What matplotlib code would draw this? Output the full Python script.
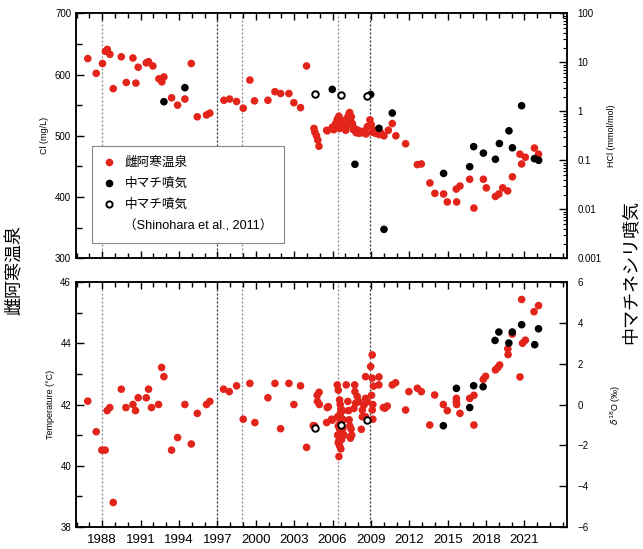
import numpy as np
import matplotlib
matplotlib.use("Agg")
import matplotlib.pyplot as plt
from matplotlib.lines import Line2D
from matplotlib.ticker import MultipleLocator, FixedLocator, LogLocator, NullFormatter

plt.rcParams['font.family'] = ['Liberation Sans', 'Noto Sans CJK JP', 'DejaVu Sans']

# ── Data ──

# 雌阿寒温泉 Cl (mg/L)
cl_year = [1986.87, 1987.53, 1988.02, 1988.25, 1988.4, 1988.6, 1988.86, 1989.49, 1989.88,
           1990.4, 1990.63, 1990.81, 1991.44, 1991.62, 1991.96, 1992.43, 1992.66, 1992.82,
           1993.42, 1993.89, 1994.46, 1994.96, 1995.43, 1996.15, 1996.41, 1997.51, 1997.95,
           1998.5, 1999.02, 1999.54, 1999.9, 2000.95, 2001.5, 2001.94, 2002.59, 2002.98,
           2003.5, 2003.97,
           2004.55, 2004.62, 2004.75, 2004.85, 2004.94, 2005.54, 2005.6, 2005.98, 2006.1,
           2006.24, 2006.3, 2006.37, 2006.45, 2006.5, 2006.55, 2006.63, 2006.7, 2006.76,
           2006.85, 2006.9, 2007.03, 2007.1, 2007.16, 2007.25, 2007.34, 2007.4, 2007.47,
           2007.55, 2007.62, 2007.73, 2007.85, 2007.99, 2008.1, 2008.25, 2008.4, 2008.51,
           2008.62, 2008.72, 2008.92, 2009.03, 2009.1, 2009.23, 2009.35, 2009.5, 2009.63,
           2009.76, 2010.02, 2010.36, 2010.67, 2010.95,
           2011.71, 2012.63, 2012.94, 2013.61, 2014.0, 2014.68, 2014.97, 2015.67, 2015.7,
           2015.96, 2016.72, 2017.05, 2017.79, 2018.02, 2018.73, 2019.0, 2019.3, 2019.69,
           2020.06, 2020.65, 2020.78, 2021.07, 2021.78, 2022.1]
cl_value = [626, 602, 618, 638, 641, 633, 577, 629, 587,
            627, 586, 612, 619, 621, 614, 593, 588, 596,
            562, 550, 560, 618, 531, 534, 537, 558, 560,
            556, 545, 591, 557, 558, 572, 569, 569, 554,
            546, 614,
            512, 506, 500, 493, 483, 509, 508, 514, 510,
            520, 516, 527, 522, 532, 512, 523, 518, 515,
            525, 520, 509, 516, 529, 534, 538, 524, 531,
            520, 510, 512, 505, 509, 504, 507, 505, 508,
            503, 515, 526, 518, 506, 509, 504, 507, 502,
            505, 500, 509, 520, 500,
            487, 453, 454, 423, 406, 405, 392, 413, 392,
            418, 429, 382, 429, 415, 401, 405, 415, 410,
            433, 470, 454, 465, 480, 470]

# 中マチネシリ噴気 HCl (mmol/mol)
hcl_year = [1992.82, 1994.46, 2005.98, 2007.75, 2008.98, 2009.63, 2010.02, 2010.67,
            2014.68, 2016.72, 2017.03, 2017.79, 2018.73, 2019.04, 2019.79, 2020.06,
            2020.78, 2021.78, 2022.11]
hcl_value = [1.57, 3.03, 2.8, 0.083, 2.2, 0.45, 0.0039, 0.92,
             0.054, 0.074, 0.19, 0.14, 0.105, 0.22, 0.40, 0.18,
             1.3, 0.108, 0.10]

# Shinohara et al. (2011)
sh_year = [2004.6, 2006.69, 2008.67]
sh_hcl = [2.25, 2.15, 2.02]
sh_d18o = [-1.17, -1.0, -0.76]

# 雌阿寒温泉 temperature (°C)
t_year = [1986.87, 1987.53, 1987.97, 1988.23, 1988.38, 1988.59, 1988.86, 1989.49, 1989.85,
          1990.4, 1990.6, 1990.81, 1991.44, 1991.62, 1991.85, 1992.4, 1992.64, 1992.82,
          1993.42, 1993.89, 1994.46, 1994.96, 1995.43, 1996.15, 1996.41, 1997.48, 1997.93,
          1998.5, 1999.02, 1999.54, 1999.93, 2000.95, 2001.5, 2001.94, 2002.59, 2002.98,
          2003.5, 2003.97,
          2004.49, 2004.6, 2004.8, 2004.95, 2004.82, 2004.97, 2005.54, 2005.59, 2005.67,
          2005.93, 2005.98, 2006.37, 2006.45,
          2006.4, 2006.45, 2006.4, 2006.5, 2006.45, 2006.5, 2006.55, 2006.6, 2006.65,
          2006.6, 2006.7, 2006.6, 2006.65, 2006.55, 2006.7, 2006.6, 2006.7, 2006.55,
          2006.65, 2006.8, 2006.85, 2006.8, 2006.9,
          2007.07, 2007.2, 2007.25, 2007.3, 2007.35, 2007.45, 2007.5, 2007.4,
          2007.73, 2007.75, 2007.93, 2007.8, 2007.67, 2008.06, 2008.33, 2008.45, 2008.58,
          2008.72, 2008.33, 2008.58, 2008.25, 2008.58, 2008.98, 2009.1, 2009.1, 2009.2,
          2009.05, 2009.15, 2009.1, 2009.15, 2009.63, 2009.62, 2009.97, 2010.1, 2010.28,
          2010.67, 2010.93,
          2011.71, 2011.97, 2012.63, 2012.94, 2013.6, 2013.98, 2014.66, 2014.97, 2015.68,
          2015.68, 2015.7, 2015.96, 2016.72, 2017.05, 2017.05, 2017.78, 2017.96, 2018.73,
          2018.93, 2019.06, 2019.7, 2019.72, 2020.05, 2020.65, 2020.78, 2020.85, 2021.07,
          2021.75, 2022.1]
t_value = [42.11, 41.11, 40.51, 40.51, 41.8, 41.9, 38.8, 42.5, 41.9,
           42.0, 41.8, 42.22, 42.22, 42.5, 41.9, 42.0, 43.21, 42.91,
           40.51, 40.92, 42.0, 40.71, 41.71, 42.0, 42.1, 42.5, 42.42,
           42.61, 41.52, 42.69, 41.41, 42.22, 42.69, 41.21, 42.69, 42.0,
           42.61, 40.6,
           41.31, 41.3, 42.3, 42.4, 42.1, 42.0, 41.41, 41.9, 41.93,
           41.52, 41.49, 42.64, 42.47,
           41.6, 41.3, 41.0, 40.82, 40.75, 40.3, 42.15, 42.0, 41.85,
           41.7, 41.55, 41.45, 41.35, 41.2, 41.1, 40.95, 40.85, 40.65,
           40.55, 41.8, 41.5, 41.2, 41.0,
           42.64, 42.1, 41.8, 41.5, 41.3, 41.2, 41.0, 40.9,
           42.64, 42.42, 42.26, 42.04, 41.87, 42.09, 41.82, 41.98, 42.2,
           42.09, 41.6, 41.6, 41.19, 42.91, 43.24, 43.62, 42.86, 42.6,
           42.3, 42.0, 41.82, 41.52, 42.9, 42.64, 41.9, 41.88, 41.95,
           42.64, 42.71,
           41.82, 42.42, 42.53, 42.42, 41.33, 42.31, 42.0, 41.8, 42.09,
           42.2, 42.0, 41.71, 42.2, 42.3, 41.33, 42.82, 42.92, 43.13,
           43.21, 43.29, 43.82, 43.63, 44.3, 42.9, 45.43, 44.0, 44.1,
           45.03, 45.23]

# 中マチネシリ噴気 δ18O (‰)
d18o_year = [2014.66, 2015.68, 2016.72, 2017.03, 2017.77, 2018.7, 2019.0, 2019.78,
             2020.05, 2020.78, 2021.8, 2022.1]
d18o_value = [-1.04, 0.79, -0.15, 0.92, 0.87, 3.14, 3.55, 3.01,
              3.55, 3.91, 2.93, 3.71]

event_year = [1988.0, 1997.0, 1998.95, 2006.4, 2008.95]
event_dark = [False, True, False, False, True]

year_ticks = list(range(1988, 2022, 3))

RED = '#e3241b'

# ── Figure ──

fig = plt.figure(figsize=(6.43, 5.49), dpi=100)
ax1 = fig.add_axes([0.1182, 0.5295, 0.7631, 0.4463])
ax2 = fig.add_axes([0.1182, 0.0401, 0.7631, 0.4462])
ax1r = ax1.twinx()
ax2r = ax2.twinx()

for ax in (ax1, ax2):
    for x, dark in zip(event_year, event_dark):
        ax.axvline(x, color='#333333' if dark else '#8a8a8a', lw=0.9,
                   ls=(0, (1.6, 1.6)), zorder=1)

# top panel
ax1.scatter(cl_year, cl_value, s=30, color=RED, edgecolors='none', zorder=3)
ax1r.scatter(hcl_year, hcl_value, s=30, color='black', edgecolors='none', zorder=4)
ax1r.scatter(sh_year, sh_hcl, s=22, facecolors='white', edgecolors='black',
             linewidths=1.4, zorder=4)

# bottom panel
ax2.scatter(t_year, t_value, s=30, color=RED, edgecolors='none', zorder=3)
ax2r.scatter(d18o_year, d18o_value, s=30, color='black', edgecolors='none', zorder=4)
ax2r.scatter(sh_year, sh_d18o, s=22, facecolors='white', edgecolors='black',
             linewidths=1.4, zorder=4)

for ax in (ax1, ax2, ax1r, ax2r):
    ax.set_xlim(1985.95, 2024.3)
    ax.xaxis.set_major_locator(FixedLocator(year_ticks))
    ax.xaxis.set_minor_locator(MultipleLocator(1))
    for sp in ax.spines.values():
        sp.set_linewidth(1.1)

ax1.set_ylim(300, 700)
ax1.yaxis.set_major_locator(MultipleLocator(100))
ax1.yaxis.set_minor_locator(MultipleLocator(50))
ax1r.set_yscale('log')
ax1r.set_ylim(0.001, 100)
ax1r.yaxis.set_minor_locator(LogLocator(base=10, subs=np.arange(2, 10), numticks=10))
ax1r.yaxis.set_minor_formatter(NullFormatter())
ax1r.set_yticks([0.001, 0.01, 0.1, 1, 10, 100])
ax1r.set_yticklabels(['0.001', '0.01', '0.1', '1', '10', '100'])

ax2.set_ylim(38, 46)
ax2.yaxis.set_major_locator(MultipleLocator(2))
ax2.yaxis.set_minor_locator(MultipleLocator(1))
ax2r.set_ylim(-6, 6)
ax2r.yaxis.set_major_locator(MultipleLocator(2))

for ax in (ax1, ax2):
    ax.tick_params(axis='x', which='both', direction='in', top=True, bottom=True)
    ax.tick_params(axis='x', which='major', length=5, width=1)
    ax.tick_params(axis='x', which='minor', length=3.5, width=1)
    ax.tick_params(axis='y', which='both', direction='in', left=True, right=False,
                   labelsize=7, pad=3.5)
    ax.tick_params(axis='y', which='major', length=6, width=1)
    ax.tick_params(axis='y', which='minor', length=4, width=1)
for ax in (ax1r, ax2r):
    ax.tick_params(axis='y', which='both', direction='in', labelsize=7, pad=8)
    ax.tick_params(axis='y', which='major', length=6, width=1)
    ax.tick_params(axis='y', which='minor', length=3, width=0.8)
    ax.tick_params(axis='x', which='both', bottom=False, top=False, labelbottom=False)

ax1.tick_params(axis='x', labelbottom=False)
ax2.tick_params(axis='x', labelsize=9.5, pad=5)

ax1.set_ylabel('Cl (mg/L)', fontsize=6.5, labelpad=4)
ax2.set_ylabel('Temperature (°C)', fontsize=6.5, labelpad=4)
ax1r.set_ylabel('HCl (mmol/mol)', fontsize=6.5, labelpad=3.5)
ax2r.set_ylabel(r'$\delta^{18}$O (‰)', fontsize=6.5, labelpad=14)

handles = [
    Line2D([], [], ls='none', marker='o', ms=5.5, mfc=RED, mec='none'),
    Line2D([], [], ls='none', marker='o', ms=5.5, mfc='black', mec='none'),
    Line2D([], [], ls='none', marker='o', ms=4.5, mfc='white', mec='black', mew=1.4),
    Line2D([], [], ls='none', marker='none'),
]
labels = ['雌阿寒温泉', '中マチ噴気', '中マチ噴気', '（Shinohara et al., 2011）']
leg = ax1.legend(handles, labels, loc='lower left', bbox_to_anchor=(0.033, 0.062),
                 fontsize=9.1, frameon=True, fancybox=False, framealpha=1,
                 edgecolor='#888888', handlelength=1.0, handletextpad=0.7,
                 labelspacing=0.7, borderpad=0.85, borderaxespad=0)
leg.get_frame().set_linewidth(0.8)
leg.set_zorder(10)

fig.text(0.024, 0.508, '雌阿寒温泉', rotation=90, fontsize=13,
         ha='center', va='center')
fig.text(0.982, 0.505, '中マチネシリ噴気', rotation=90, fontsize=13,
         ha='center', va='center')

fig.savefig('out.png', dpi=100)
